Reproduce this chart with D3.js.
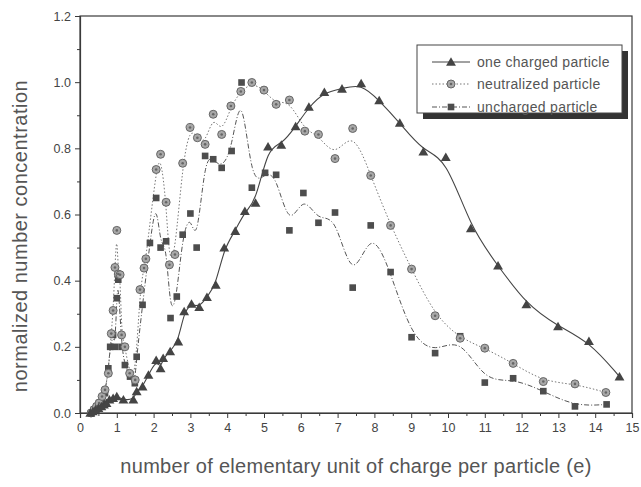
<!DOCTYPE html>
<html><head><meta charset="utf-8">
<script src="https://cdn.jsdelivr.net/npm/d3@7"></script>
<style>body{margin:0;background:#fff}svg{display:block}</style>
</head><body>
<svg id="c" width="641" height="487"></svg>
<script>
// ---- data ----
const xTicks = [0,1,2,3,4,5,6,7,8,9,10,11,12,13,14,15];
const yTicks = [0.0,0.2,0.4,0.6,0.8,1.0,1.2];
const seriesNames = ["one charged particle","neutralized particle","uncharged particle"];

const chargedX = [0.28,0.35,0.42,0.5,0.58,0.65,0.72,0.8,0.9,1.0,1.18,1.45,1.54,1.7,1.86,2.07,2.19,2.26,2.45,2.67,2.83,3.03,3.24,3.45,3.69,3.92,4.22,4.48,4.77,5.11,5.47,5.86,6.22,6.64,7.12,7.64,8.13,8.69,9.33,9.94,10.62,11.36,12.13,12.99,13.83,14.66];
const chargedY = [0.0,0.005,0.01,0.015,0.02,0.025,0.03,0.04,0.045,0.05,0.04,0.04,0.065,0.08,0.115,0.16,0.135,0.166,0.186,0.216,0.307,0.33,0.32,0.35,0.387,0.5,0.55,0.61,0.635,0.805,0.81,0.866,0.925,0.97,0.98,0.996,0.945,0.877,0.79,0.773,0.558,0.445,0.328,0.262,0.217,0.11];

const neutralX = [0.3,0.38,0.45,0.52,0.6,0.68,0.77,0.85,0.9,0.95,1.0,1.04,1.09,1.13,1.22,1.35,1.5,1.63,1.74,1.79,2.07,2.19,2.34,2.43,2.58,2.79,2.99,3.19,3.4,3.62,3.85,4.1,4.37,4.67,5.0,5.33,5.69,6.11,6.48,6.93,7.41,7.9,8.44,9.01,9.65,10.33,11.0,11.77,12.59,13.45,14.29];
const neutralY = [0.0,0.01,0.02,0.03,0.05,0.07,0.12,0.24,0.31,0.44,0.552,0.42,0.418,0.236,0.2,0.12,0.1,0.373,0.438,0.466,0.736,0.782,0.637,0.448,0.479,0.755,0.863,0.832,0.812,0.903,0.842,0.928,0.972,0.999,0.976,0.933,0.946,0.852,0.842,0.769,0.86,0.718,0.567,0.435,0.294,0.226,0.196,0.15,0.095,0.088,0.062];

const unchargedX = [0.3,0.38,0.45,0.52,0.6,0.68,0.77,0.82,0.9,0.95,1.0,1.04,1.13,1.22,1.36,1.49,1.54,1.7,1.9,2.07,2.19,2.34,2.46,2.63,2.79,3.0,3.17,3.4,3.62,3.85,4.12,4.39,4.67,5.03,5.33,5.69,6.07,6.48,6.93,7.41,7.9,8.44,9.01,9.65,10.33,11.0,11.77,12.59,13.45,14.31];
const unchargedY = [0.0,0.01,0.02,0.03,0.04,0.06,0.135,0.2,0.236,0.2,0.347,0.403,0.2,0.145,0.11,0.09,0.17,0.327,0.514,0.65,0.5,0.519,0.287,0.352,0.539,0.603,0.5,0.777,0.767,0.741,0.792,0.999,0.681,0.726,0.72,0.552,0.665,0.575,0.606,0.379,0.567,0.426,0.229,0.181,0.232,0.092,0.105,0.066,0.02,0.026];

// ---- layout ----
const svg = d3.select("#c");
const L = 80, R = 632, T = 16, B = 413;
const x = d3.scaleLinear().domain([0,15]).range([L,R]);
const y = d3.scaleLinear().domain([0,1.2]).range([B,T]);
const ink = "#3a3a3a";
const font = "'Liberation Sans', Arial, sans-serif";

// frame
svg.append("rect").attr("x",L).attr("y",T).attr("width",R-L).attr("height",B-T)
  .attr("fill","none").attr("stroke",ink).attr("stroke-width",1.2);

// x axis
svg.append("g").attr("transform",`translate(0,${B})`)
  .call(d3.axisBottom(x).tickValues(xTicks).tickFormat(d3.format("d")).tickSize(5).tickPadding(5));
svg.append("g").attr("transform",`translate(0,${B})`)
  .call(d3.axisBottom(x).tickValues(d3.range(0.5,15,1)).tickFormat("").tickSize(3))
  .select(".domain").remove();
// y axis
svg.append("g").attr("transform",`translate(${L},0)`)
  .call(d3.axisLeft(y).tickValues(yTicks).tickFormat(d3.format(".1f")).tickSize(5).tickPadding(4));
svg.append("g").attr("transform",`translate(${L},0)`)
  .call(d3.axisLeft(y).tickValues(d3.range(0.1,1.2,0.2)).tickFormat("").tickSize(3))
  .select(".domain").remove();
svg.selectAll(".domain").attr("stroke",ink).attr("stroke-width",1.2);
svg.selectAll(".tick line").attr("stroke",ink);
svg.selectAll(".tick text").attr("fill","#444").attr("font-family",font).attr("font-size",12.5);

// axis titles
svg.append("text").attr("x",356).attr("y",473).attr("text-anchor","middle")
  .attr("font-family",font).attr("font-size",20).attr("letter-spacing",0.3).attr("fill","#555")
  .text("number of elementary unit of charge per particle (e)");
svg.append("text").attr("transform",`translate(27,236) rotate(-90)`).attr("text-anchor","middle")
  .attr("font-family",font).attr("font-size",20).attr("letter-spacing",0.5).attr("fill","#555")
  .text("normalized number concentration");

// series
const mk = (xs,ys)=>xs.map((v,i)=>[v,ys[i]]);
const charged = mk(chargedX,chargedY), neutral = mk(neutralX,neutralY), uncharged = mk(unchargedX,unchargedY);
const line = d3.line().x(d=>x(d[0])).y(d=>y(d[1])).curve(d3.curveBasis);

const plot = svg.append("g");
plot.append("path").datum(uncharged).attr("d",line).attr("fill","none")
  .attr("stroke","#555").attr("stroke-width",1).attr("stroke-dasharray","5,2,1,2");
plot.append("path").datum(neutral).attr("d",line).attr("fill","none")
  .attr("stroke","#777").attr("stroke-width",1).attr("stroke-dasharray","1.5,2");
plot.append("path").datum(charged).attr("d",line).attr("fill","none")
  .attr("stroke","#444").attr("stroke-width",1.1);

const tri = d3.symbol().type(d3.symbolTriangle).size(42);
const sq = d3.symbol().type(d3.symbolSquare).size(44);

function drawCircles(g, data){
  g.selectAll(null).data(data).enter().append("circle")
    .attr("cx",d=>x(d[0])).attr("cy",d=>y(d[1])).attr("r",4)
    .attr("fill","#a8a8a8").attr("stroke","#666").attr("stroke-width",1);
  g.selectAll(null).data(data).enter().append("circle")
    .attr("cx",d=>x(d[0])).attr("cy",d=>y(d[1])).attr("r",1.3).attr("fill","#666");
}
plot.selectAll(".sq").data(uncharged).enter().append("path").attr("d",sq)
  .attr("transform",d=>`translate(${x(d[0])},${y(d[1])})`).attr("fill","#4d4d4d");
drawCircles(plot.append("g"), neutral);
plot.selectAll(".tr").data(charged).enter().append("path").attr("d",tri)
  .attr("transform",d=>`translate(${x(d[0])},${y(d[1])+1})`).attr("fill","#444");

// legend
const lg = svg.append("g");
const lx = 417, ly = 45, lw = 205, lh = 68;
lg.append("rect").attr("x",lx+6).attr("y",ly+6).attr("width",lw).attr("height",lh).attr("fill","#333");
lg.append("rect").attr("x",lx).attr("y",ly).attr("width",lw).attr("height",lh).attr("fill","#fff")
  .attr("stroke","#444").attr("stroke-width",1);
const rows = [62,84,107];
const styles = [
  {stroke:"#444",dash:null},
  {stroke:"#777",dash:"1.5,2"},
  {stroke:"#555",dash:"5,2,1,2"}
];
seriesNames.forEach((name,i)=>{
  lg.append("line").attr("x1",432).attr("x2",470).attr("y1",rows[i]).attr("y2",rows[i])
    .attr("stroke",styles[i].stroke).attr("stroke-dasharray",styles[i].dash);
  lg.append("text").attr("x",477).attr("y",rows[i]+5).attr("font-family",font)
    .attr("font-size",14).attr("letter-spacing",0.3).attr("fill","#555").text(name);
});
lg.append("path").attr("d",tri).attr("transform",`translate(451,${rows[0]+1})`).attr("fill","#444");
drawCircles(lg.append("g"), [[x.invert(451), y.invert(rows[1])]]);
lg.append("path").attr("d",sq).attr("transform",`translate(451,${rows[2]})`).attr("fill","#4d4d4d");
</script>
</body></html>
